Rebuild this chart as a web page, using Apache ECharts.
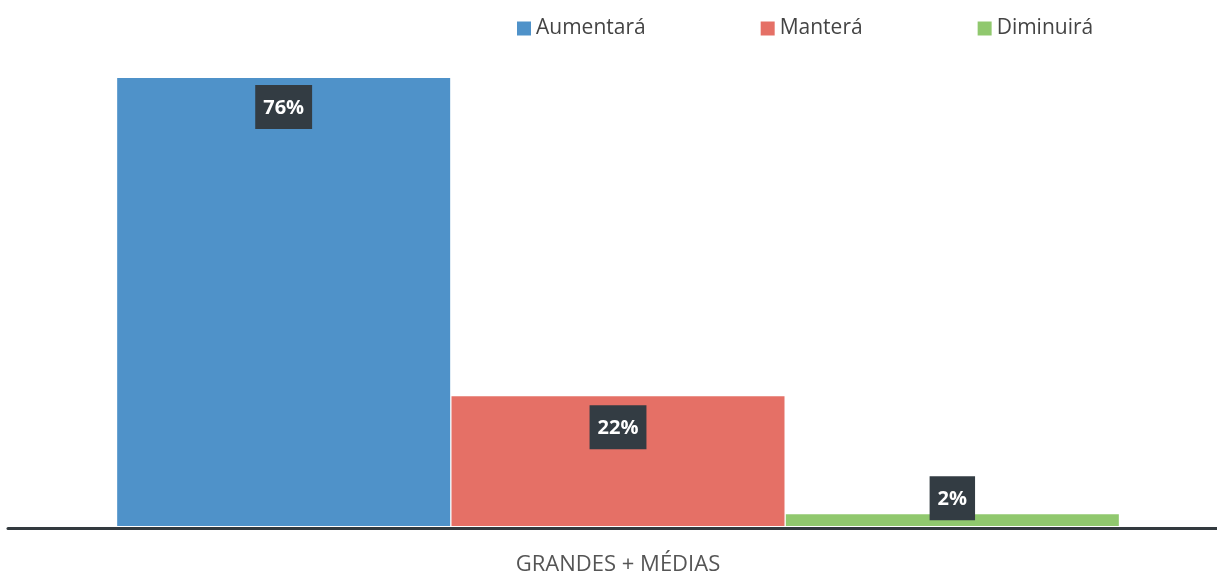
<!DOCTYPE html>
<html>
<head>
<meta charset="utf-8">
<script src="https://cdn.jsdelivr.net/npm/echarts@6/dist/echarts.min.js"></script>
<style>
  html, body { margin: 0; padding: 0; background: #fff; }
  #chart { width: 1217px; height: 576px; }
</style>
</head>
<body>
<div id="chart"></div>
<script>
// dados
const categories = ['GRANDES + MÉDIAS'];
const seriesNames = ['Aumentará', 'Manterá', 'Diminuirá'];
const aumentara = [76];
const mantera = [22];
const diminuira = [2];

const colors = ['#4f92c9', '#e57066', '#90c86e'];
const font = 'Open Sans';

const labelBox = {
    show: true,
    formatter: '{c}%',
    color: '#fff',
    fontWeight: 'bold',
    fontSize: 20,
    fontFamily: font,
    backgroundColor: '#333c43',
    padding: [13, 8, 11, 8]
};

let myChart = echarts.init(document.getElementById('chart'));
myChart.setOption({
    animation: false,
    color: colors,
    legend: {
        top: 13,
        left: 512,
        itemWidth: 14,
        itemHeight: 14,
        itemGap: 115,
        icon: 'rect',
        textStyle: { fontSize: 21, color: '#444', fontFamily: font }
    },
    grid: [
        { left: 19, right: 0, top: 78, bottom: 48 },
        { left: 8, right: 0, top: 78, bottom: 48 }
    ],
    xAxis: [
        {
            type: 'category',
            data: categories,
            gridIndex: 0,
            axisTick: { show: false },
            axisLine: { show: false },
            axisLabel: { fontSize: 22, color: '#555', fontFamily: font, margin: 28 }
        },
        {
            // só a linha de base
            type: 'category',
            data: [''],
            gridIndex: 1,
            axisTick: { show: false },
            axisLabel: { show: false },
            axisLine: { lineStyle: { color: '#333a3f', width: 3 } }
        }
    ],
    yAxis: [
        { type: 'value', min: 0, max: 76, show: false, gridIndex: 0 },
        { type: 'value', min: 0, max: 76, show: false, gridIndex: 1 }
    ],
    series: [
        {
            name: seriesNames[0], type: 'bar', data: aumentara,
            barWidth: 333, barGap: '0.4%',
            label: Object.assign({}, labelBox, { position: 'insideTop', distance: 7 })
        },
        {
            name: seriesNames[1], type: 'bar', data: mantera,
            barWidth: 333, barGap: '0.4%',
            label: Object.assign({}, labelBox, { position: 'insideTop', distance: 9 })
        },
        {
            name: seriesNames[2], type: 'bar', data: diminuira,
            barWidth: 333, barGap: '0.4%',
            label: Object.assign({}, labelBox, { position: 'top', distance: -6 })
        }
    ]
});
</script>
</body>
</html>
